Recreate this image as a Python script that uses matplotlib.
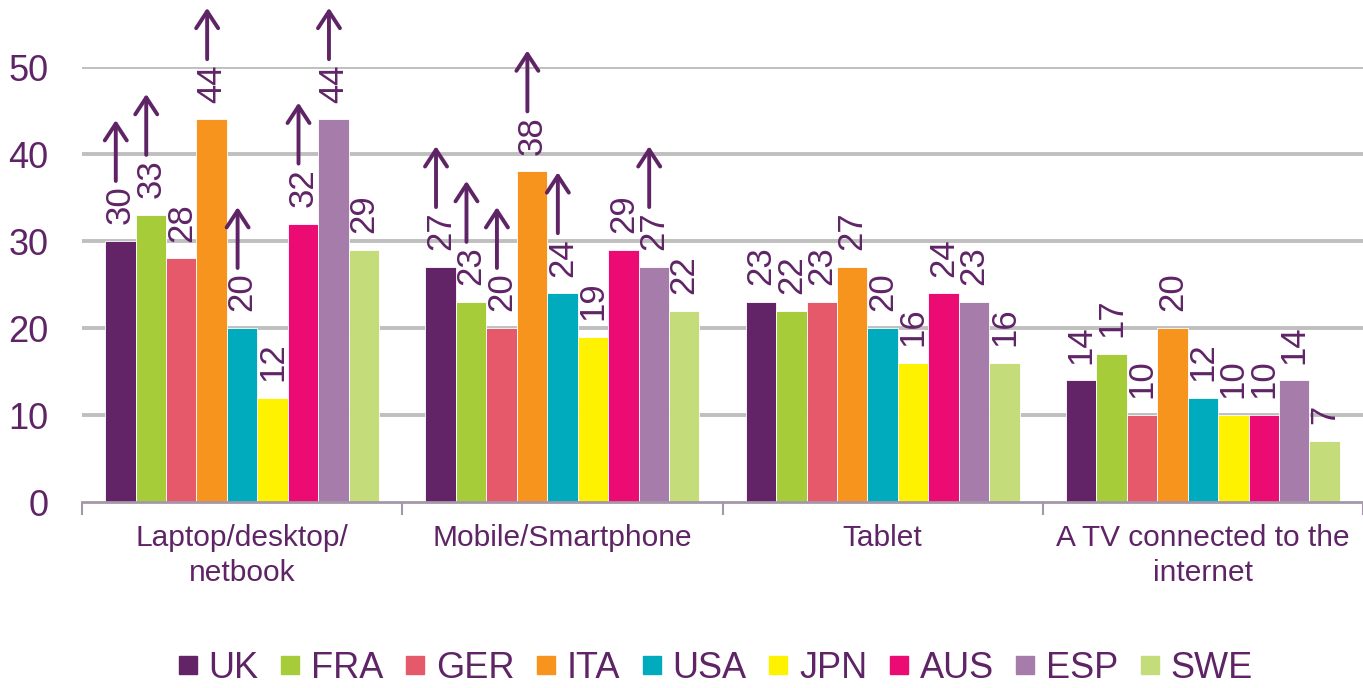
import matplotlib
matplotlib.use("Agg")
import matplotlib.pyplot as plt
from matplotlib.lines import Line2D
import numpy as np

categories = ["Laptop/desktop/\nnetbook", "Mobile/Smartphone", "Tablet",
              "A TV connected to the\ninternet"]
countries = ["UK", "FRA", "GER", "ITA", "USA", "JPN", "AUS", "ESP", "SWE"]
colors = ["#622466", "#A7CC39", "#E5596B", "#F7941E", "#00ABBD",
          "#FFF200", "#EC0B72", "#A57CAA", "#C4DC7A"]

uk  = [30, 27, 23, 14]
fra = [33, 23, 22, 17]
ger = [28, 20, 23, 10]
ita = [44, 38, 27, 20]
usa = [20, 24, 20, 12]
jpn = [12, 19, 16, 10]
aus = [32, 29, 24, 10]
esp = [44, 27, 23, 14]
swe = [29, 22, 16, 7]
series = [uk, fra, ger, ita, usa, jpn, aus, esp, swe]

# significant increase arrows (per country, per category)
arrow_uk  = [True, True, False, False]
arrow_fra = [True, True, False, False]
arrow_ger = [False, True, False, False]
arrow_ita = [True, True, False, False]
arrow_usa = [True, True, False, False]
arrow_jpn = [False, False, False, False]
arrow_aus = [True, False, False, False]
arrow_esp = [True, True, False, False]
arrow_swe = [False, False, False, False]
arrows = [arrow_uk, arrow_fra, arrow_ger, arrow_ita, arrow_usa,
          arrow_jpn, arrow_aus, arrow_esp, arrow_swe]

TXT = "#5F2466"
REG = ["Liberation Sans", "DejaVu Sans"]

fig = plt.figure(figsize=(13.63, 6.88), dpi=100)
ax = fig.add_axes([0.0602, 0.2703, 0.9398, 0.6323])

n = len(series)
w = 0.0951
x = np.arange(len(categories))
for i, (vals, col, arr) in enumerate(zip(series, colors, arrows)):
    xs = x + (i - (n - 1) / 2) * w
    ax.bar(xs, vals, width=w, color=col, edgecolor="white", linewidth=0.6,
           zorder=2)
    for xi, v, a in zip(xs, vals, arr):
        ax.annotate(str(v), (xi, v), xytext=(0, 12), textcoords="offset points",
                    rotation=90, ha="center", va="bottom", fontsize=25,
                    color=TXT, family=REG, annotation_clip=False)
        if a:
            tail = v + 6.9
            head = min(tail + 7.0, 56.8)
            ax.annotate("", xy=(xi - 0.15 * w, head),
                        xytext=(xi - 0.15 * w, tail),
                        arrowprops=dict(arrowstyle="->,head_length=0.55,head_width=0.36",
                                        color=TXT, lw=2.8, mutation_scale=22,
                                        shrinkA=0, shrinkB=0),
                        annotation_clip=False, zorder=5)

ax.set_xlim(-0.5, len(categories) - 0.5)
ax.set_ylim(0, 50)
ax.set_yticks(range(0, 51, 10))
ax.set_yticklabels([str(t) for t in range(0, 51, 10)], fontsize=26,
                   color=TXT, family=REG)
ax.tick_params(axis="y", length=0, pad=24)
for t in range(10, 51, 10):
    ax.axhline(t, color="#BFBFBF", lw=2.8, zorder=1)

ax.set_xticks(x)
ax.set_xticklabels(categories, fontsize=21.5, color=TXT, family=REG,
                   linespacing=1.32, va="top")
ax.tick_params(axis="x", which="major", length=0, pad=16)
ax.set_xticks(np.arange(-0.5, len(categories), 1.0), minor=True)
ax.tick_params(axis="x", which="minor", length=9, width=1.5, color="#A597AA",
               direction="out")

for s in ["left", "right", "top"]:
    ax.spines[s].set_visible(False)
ax.spines["bottom"].set_color("#A597AA")
ax.spines["bottom"].set_linewidth(2)
ax.spines["bottom"].set_zorder(3)

handles = [Line2D([], [], marker="s", linestyle="none", markersize=13.5,
                  markerfacecolor=c, markeredgecolor=c) for c in colors]
leg = fig.legend(handles, countries, loc="center", bbox_to_anchor=(0.525, 0.029),
                 ncol=9, frameon=False, handlelength=0.55, handletextpad=0.3,
                 columnspacing=0.6, borderpad=0, prop={"family": REG, "size": 26})
for t in leg.get_texts():
    t.set_color(TXT)

fig.savefig("out.png", dpi=100)
